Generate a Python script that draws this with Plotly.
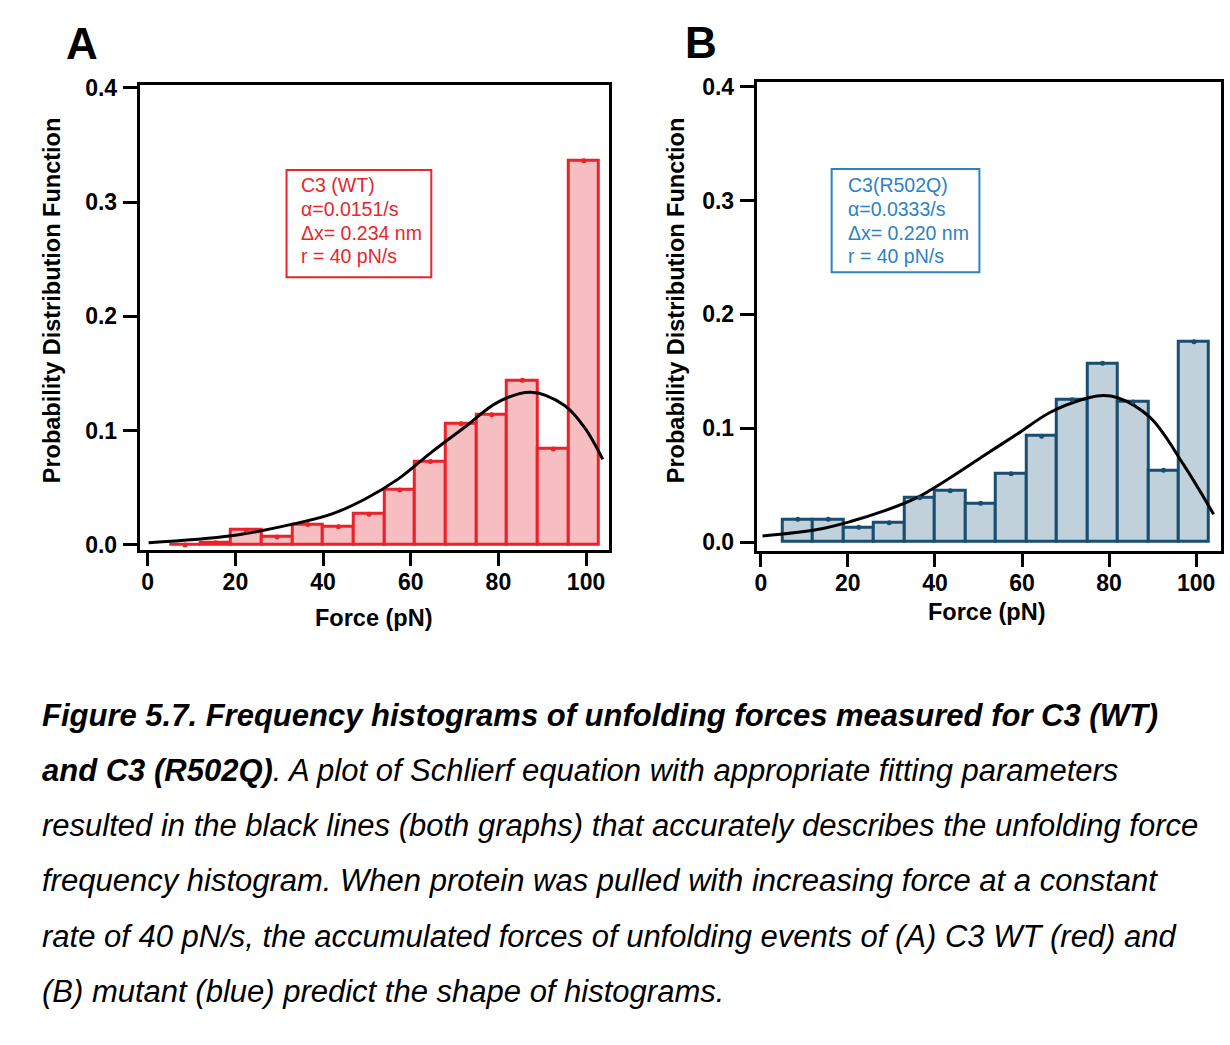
import plotly.graph_objects as go

W, H = 1230, 1045

# ---------------- data ----------------
bin_edges_start = [5, 12, 19, 26, 33, 40, 47, 54, 61, 68, 75, 82, 89, 96]
bin_width = 7
bin_centers = [s + bin_width / 2 for s in bin_edges_start]

wt_pdf = [0.000, 0.002, 0.013, 0.007, 0.018, 0.016, 0.027, 0.048, 0.073,
          0.106, 0.114, 0.144, 0.084, 0.336]
mut_pdf = [0.020, 0.020, 0.013, 0.017, 0.039, 0.045, 0.034, 0.060, 0.093,
           0.125, 0.157, 0.123, 0.063, 0.176]

wt_fit_force = [0.2, 19.1, 32.8, 41.9, 49.5, 57.1, 64.7, 72.3, 79.9, 87.5,
                95.1, 99.6, 103.8]
wt_fit_pdf = [0.002, 0.008, 0.018, 0.027, 0.040, 0.0576, 0.081, 0.103, 0.125,
              0.1336, 0.122, 0.103, 0.075]

mut_fit_force = [0.4, 13.0, 20.6, 28.3, 35.9, 43.6, 51.2, 58.9, 66.5, 74.2,
                 78.0, 81.8, 89.4, 97.1, 104.0]
mut_fit_pdf = [0.0053, 0.011, 0.018, 0.0273, 0.039, 0.0567, 0.0758, 0.0949,
               0.114, 0.1257, 0.1286, 0.127, 0.1095, 0.068, 0.0244]

x_ticks = [0, 20, 40, 60, 80, 100]
y_ticks = [0.0, 0.1, 0.2, 0.3, 0.4]
y_tick_labels = ["0.0", "0.1", "0.2", "0.3", "0.4"]

wt_label_lines = ["C3 (WT)", "α=0.0151/s", "Δx= 0.234 nm", "r = 40 pN/s"]
mut_label_lines = ["C3(R502Q)", "α=0.0333/s", "Δx= 0.220 nm", "r = 40 pN/s"]

caption_lines = [
    "<b>Figure 5.7. Frequency histograms of unfolding forces measured for C3 (WT)</b>",
    "<b>and C3 (R502Q)</b>. A plot of Schlierf equation with appropriate fitting parameters",
    "resulted in the black lines (both graphs) that accurately describes the unfolding force",
    "frequency histogram. When protein was pulled with increasing force at a constant",
    "rate of 40 pN/s, the accumulated forces of unfolding events of (A) C3 WT (red) and",
    "(B) mutant (blue) predict the shape of histograms.",
]

# ---------------- styles ----------------
RED_LINE = "#EC2129"
RED_FILL = "#F7BEC1"
RED_TEXT = "#E8262C"
BLUE_LINE = "#1A4E70"
BLUE_FILL = "#C1D1DC"
BLUE_TEXT = "#2B82C4"
FONT = "Liberation Sans, Arial, sans-serif"


def px(x):
    return x / W


def py(y):
    # vertical calibration of the photographed page
    yc = (y - 10.5) / 0.98
    return 1 - yc / H


fig = go.Figure()

# Panel A
fig.add_trace(go.Bar(x=bin_centers, y=wt_pdf, width=[bin_width] * len(bin_centers),
                     marker=dict(color=RED_FILL, line=dict(color=RED_LINE, width=3)),
                     xaxis="x", yaxis="y", showlegend=False))
fig.add_trace(go.Scatter(x=wt_fit_force, y=wt_fit_pdf, mode="lines",
                         line=dict(color="black", width=3, shape="spline", smoothing=1.0),
                         xaxis="x", yaxis="y", showlegend=False))
fig.add_trace(go.Scatter(x=bin_centers, y=wt_pdf, mode="markers",
                         marker=dict(color=RED_LINE, size=5),
                         xaxis="x", yaxis="y", showlegend=False))

# Panel B
fig.add_trace(go.Bar(x=bin_centers, y=mut_pdf, width=[bin_width] * len(bin_centers),
                     marker=dict(color=BLUE_FILL, line=dict(color=BLUE_LINE, width=3)),
                     xaxis="x2", yaxis="y2", showlegend=False))
fig.add_trace(go.Scatter(x=mut_fit_force, y=mut_fit_pdf, mode="lines",
                         line=dict(color="black", width=3, shape="spline", smoothing=1.0),
                         xaxis="x2", yaxis="y2", showlegend=False))
fig.add_trace(go.Scatter(x=bin_centers, y=mut_pdf, mode="markers",
                         marker=dict(color=BLUE_LINE, size=5),
                         xaxis="x2", yaxis="y2", showlegend=False))

axis_common = dict(showline=True, linewidth=3, linecolor="black", mirror=True,
                   ticks="outside", tickwidth=3, tickcolor="black",
                   showgrid=False, zeroline=False,
                   tickfont=dict(family=FONT, size=23, color="black", weight="bold"))

fig.update_layout(
    width=W, height=H,
    margin=dict(l=0, r=0, t=0, b=0),
    paper_bgcolor="white", plot_bgcolor="white",
    bargap=0,
    xaxis=dict(domain=[px(138), px(608)], range=[-1.82, 105.24], anchor="y",
               tickvals=x_ticks, ticklen=13, ticklabelstandoff=-4, **axis_common),
    yaxis=dict(domain=[py(549), py(85)], range=[-0.0044, 0.4026], anchor="x",
               tickvals=y_ticks, ticktext=y_tick_labels, ticklen=14, ticklabelstandoff=1,
               **axis_common),
    xaxis2=dict(domain=[px(756), px(1221)], range=[-0.92, 105.7], anchor="y2",
                tickvals=x_ticks, ticklen=13, ticklabelstandoff=-4, **axis_common),
    yaxis2=dict(domain=[py(550), py(82)], range=[-0.0079, 0.4044], anchor="x2",
                tickvals=y_ticks, ticktext=y_tick_labels, ticklen=14, ticklabelstandoff=1,
                **axis_common),
)


def ann(x, y, text, size, color="black", xanchor="center", yanchor="middle", **kw):
    return dict(x=px(x), y=py(y), xref="paper", yref="paper", text=text,
                xanchor=xanchor, yanchor=yanchor, showarrow=False,
                font=dict(family=FONT, size=size, color=color), **kw)


annotations = []
# panel letters
annotations.append(ann(80, 44, "<b>A</b>", 44))
annotations.append(ann(700, 43, "<b>B</b>", 44))
# axis titles
annotations.append(ann(373, 617, "<b>Force (pN)</b>", 23.5))
annotations.append(ann(987, 611, "<b>Force (pN)</b>", 23.5))
annotations.append(ann(50, 300, "<b>Probability Distribution Function</b>", 23.5, textangle=-90))
annotations.append(ann(675, 300, "<b>Probability Distribution Function</b>", 23.5, textangle=-90))
# legend texts
for i, t in enumerate(wt_label_lines):
    annotations.append(ann(297, 185 + 23.7 * i, t, 19.5, RED_TEXT, xanchor="left"))
for i, t in enumerate(mut_label_lines):
    annotations.append(ann(845, 185 + 23.7 * i, t, 19.5, BLUE_TEXT, xanchor="left"))
# caption
for i, line in enumerate(caption_lines):
    annotations.append(ann(38, 714 + 55 * i, "<i>" + line + "</i>", 31, xanchor="left"))
fig.update_layout(annotations=annotations)

fig.update_layout(shapes=[
    dict(type="rect", xref="paper", yref="paper", x0=px(285), x1=px(430), y0=py(277), y1=py(170),
         line=dict(color=RED_TEXT, width=2)),
    dict(type="rect", xref="paper", yref="paper", x0=px(831), x1=px(979), y0=py(272), y1=py(169),
         line=dict(color=BLUE_TEXT, width=2)),
])

fig.write_html("out.html",
               config={"displayModeBar": False},
               post_script="document.body.style.margin='0px';document.body.style.overflow='hidden';")
